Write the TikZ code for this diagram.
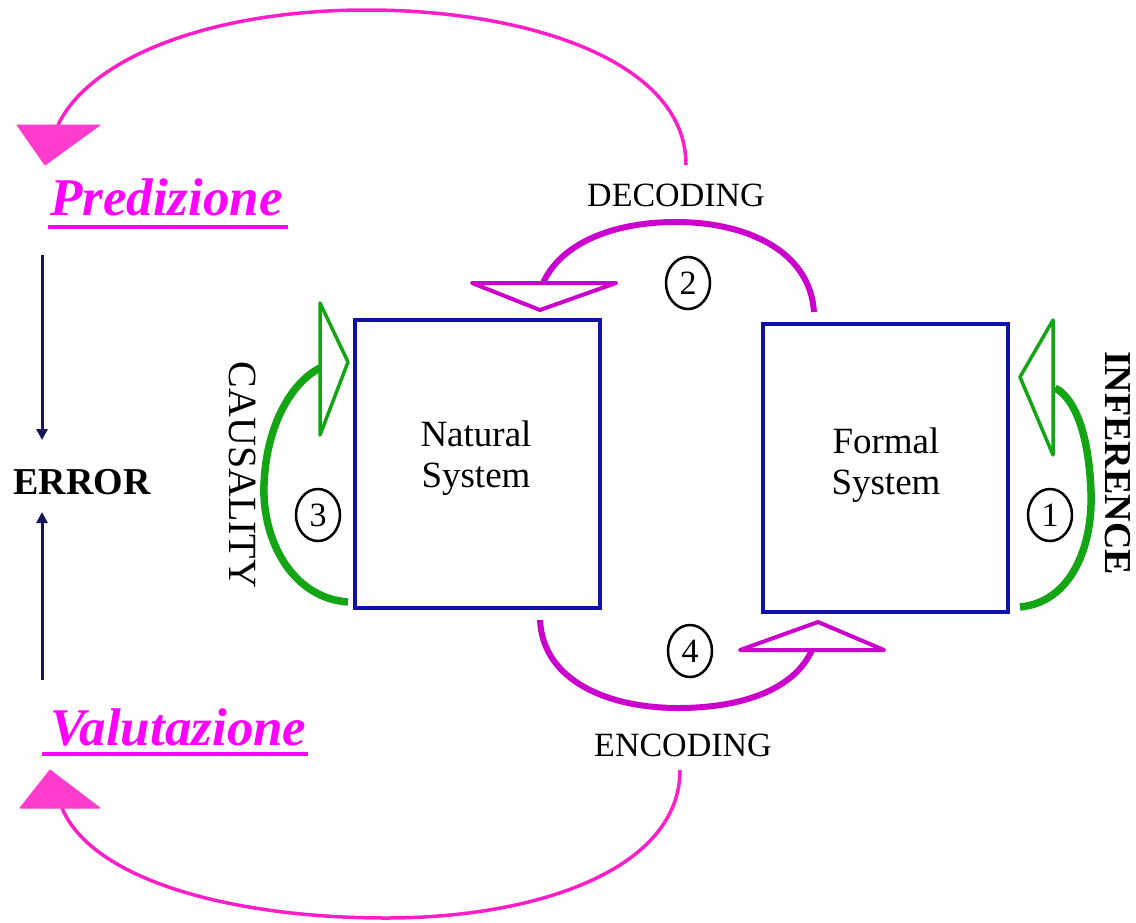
\documentclass[tikz,border=0pt]{standalone}
\usepackage{fontspec}
\setmainfont{Liberation Serif}
\usetikzlibrary{arrows.meta,shapes.geometric}
\definecolor{boxblue}{RGB}{16,16,170}
\definecolor{codemag}{RGB}{204,0,204}
\definecolor{loopink}{RGB}{255,30,200}
\definecolor{tipfill}{RGB}{255,60,205}
\definecolor{titlepink}{RGB}{255,0,255}
\definecolor{loopgreen}{RGB}{20,165,20}
\definecolor{errnavy}{RGB}{20,20,90}
\begin{document}
\begin{tikzpicture}[x=1pt,y=-1pt,
  sysbox/.style={draw=boxblue,line width=4pt,minimum width=245pt,minimum height=288pt,inner sep=0pt},
  systext/.style={font=\fontsize{37}{41}\selectfont,align=center},
  codetext/.style={font=\fontsize{34}{40}\selectfont},
  numcirc/.style={draw=black,line width=2.5pt,ellipse,minimum width=44pt,minimum height=52pt,inner sep=0pt,font=\fontsize{34}{34}\selectfont},
  ptitle/.style={text=titlepink,font=\fontsize{53}{56}\selectfont\bfseries\itshape,anchor=base west,inner sep=0pt},
  uline/.style={draw=titlepink,line width=4pt},
  codearc/.style={draw=codemag,line width=6pt},
  opentip/.style={draw=codemag,line width=4pt,line join=round},
  bigarc/.style={draw=loopink,line width=3.5pt},
  filltip/.style={fill=tipfill,draw=tipfill,line width=1pt,line join=round},
  greenarc/.style={draw=loopgreen,line width=7.5pt},
  greentip/.style={draw=loopgreen,line width=3.5pt,line join=round},
  errarrow/.style={draw=errnavy,line width=3pt,-{Triangle[length=11pt,width=11pt]}}
]
\useasboundingbox (0,0) rectangle (1136,922);

% the two systems
\node[sysbox] (nat) at (477.5,464) {};
\node[sysbox] (form) at (885.5,468) {};
\node[systext] (natlbl) at (476,458) {Natural\\System};
\node[systext] (formlbl) at (886,465) {Formal\\System};

% labels of the four relations
\node[codetext] (dec) at (676,195) {DECODING};
\node[codetext] (enc) at (683,745) {ENCODING};
\node[font=\fontsize{40}{40}\selectfont,rotate=-90] (caus) at (243,475) {CAUSALITY};
\node[font=\fontsize{38}{38}\selectfont\bfseries,rotate=-90] (infer) at (1118,463) {INFERENCE};
\node[numcirc] (n1) at (1050,515) {1};
\node[numcirc] (n2) at (688,283) {2};
\node[numcirc] (n3) at (318,515) {3};
\node[numcirc] (n4) at (690,651) {4};

% prediction / evaluation and error
\node[ptitle] (pred) at (50,215) {Predizione};
\node[ptitle] (valu) at (50,745) {Valutazione};
\draw[uline] (48,227) -- (288,227);
\draw[uline] (42,754) -- (308,754);
\node[font=\fontsize{38}{38}\selectfont\bfseries] (err) at (82,482) {ERROR};
\coordinate (predfoot) at (42,255);
\coordinate (errtop) at (42,440);
\coordinate (valuhead) at (42,680);
\coordinate (errbot) at (42,512);
\draw[errarrow] (predfoot) -- (errtop);
\draw[errarrow] (valuhead) -- (errbot);

% decoding: formal -> natural
\coordinate (decstart) at (814,312);
\coordinate (dectip) at (543,283);
\draw[codearc] (decstart) .. controls (810,250) and (745,222) .. (676,222)
  .. controls (610,222) and (560,245) .. (dectip);
\draw[opentip] (472,283) -- (616,283) -- (540,310) -- cycle;

% encoding: natural -> formal
\coordinate (encstart) at (540,620);
\coordinate (enctip) at (812,650);
\draw[codearc] (encstart) .. controls (543,682) and (610,708) .. (678,708)
  .. controls (745,708) and (795,688) .. (enctip);
\draw[opentip] (740,650) -- (884,650) -- (818,622) -- cycle;

% causality loop on the natural system
\coordinate (causstart) at (348,602);
\coordinate (caustip) at (320,368);
\draw[greenarc] (causstart) .. controls (292,598) and (262,540) .. (264,485)
  .. controls (266,425) and (292,382) .. (caustip);
\draw[greentip] (320,303) -- (348,362) -- (320,435) -- cycle;

% inference loop on the formal system
\coordinate (infstart) at (1020,607);
\coordinate (inftip) at (1055,388);
\draw[greenarc] (infstart) .. controls (1072,602) and (1093,545) .. (1091,492)
  .. controls (1089,435) and (1075,398) .. (inftip);
\draw[greentip] (1053,320) -- (1020,377) -- (1053,455) -- cycle;

% outer loops towards prediction and evaluation
\coordinate (topstart) at (686,165);
\coordinate (toptip) at (58,125);
\draw[bigarc] (topstart) .. controls (686,60) and (525,10) .. (367,10)
  .. controls (210,10) and (90,58) .. (toptip);
\draw[filltip] (17,125) -- (100,125) -- (45,165) -- cycle;

\coordinate (botstart) at (680,770);
\coordinate (bottip) at (62,808);
\draw[bigarc] (botstart) .. controls (680,868) and (540,918) .. (386,918)
  .. controls (232,918) and (92,880) .. (bottip);
\draw[filltip] (20,808) -- (100,808) -- (50,770) -- cycle;
\end{tikzpicture}
\end{document}
